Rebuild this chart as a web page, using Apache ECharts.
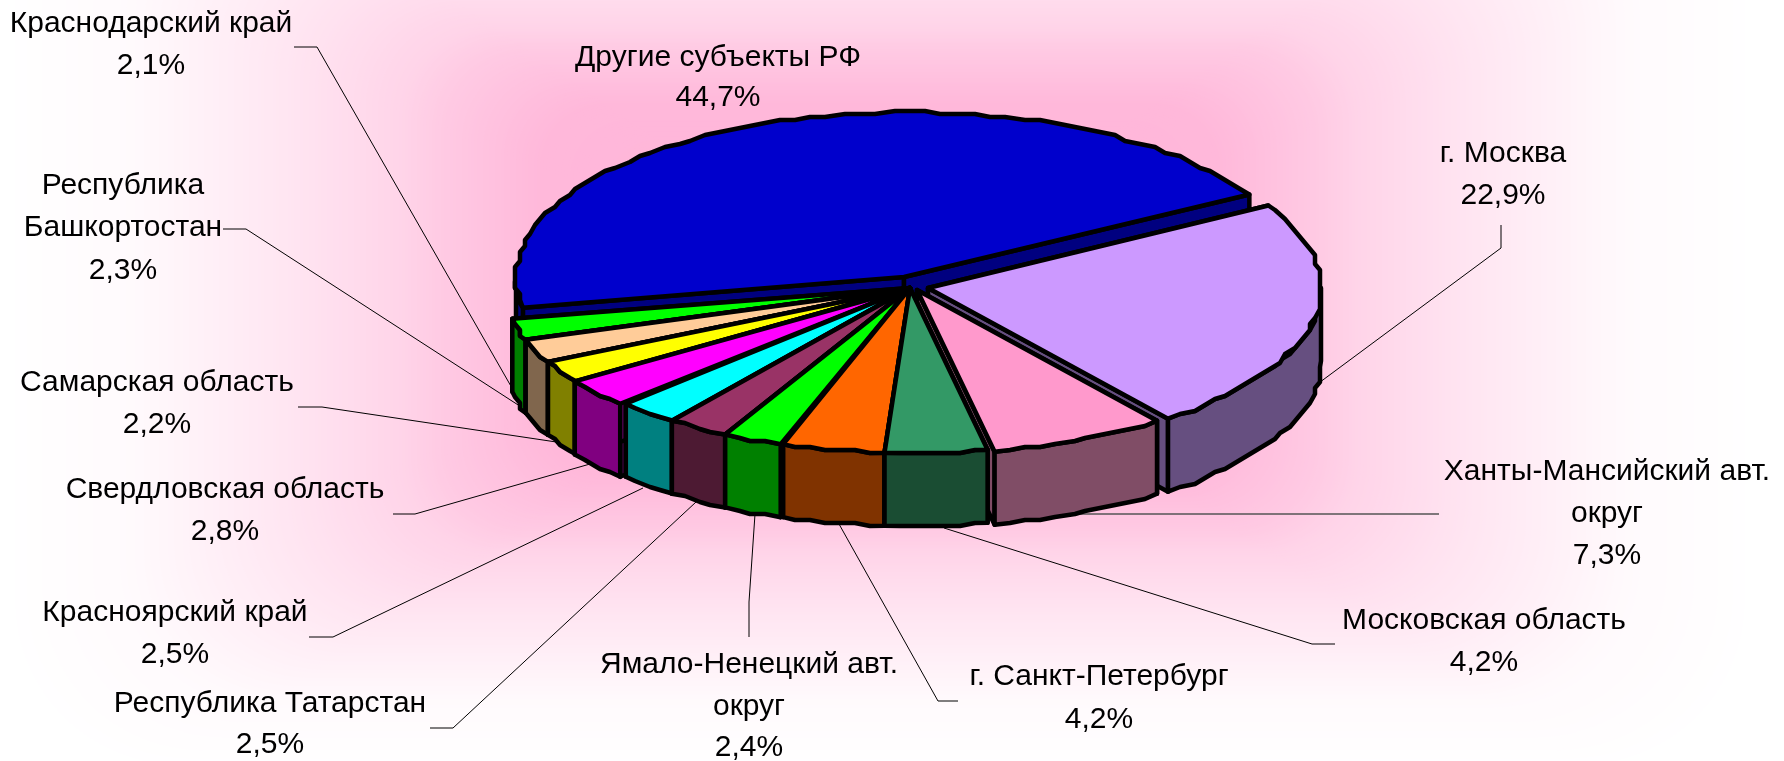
<!DOCTYPE html>
<html><head><meta charset="utf-8">
<style>html,body{margin:0;padding:0;background:#fff}#c{width:1784px;height:761px}</style>
<script src="https://cdn.jsdelivr.net/npm/echarts@6/dist/echarts.min.js"></script></head>
<body><div id="c"></div>
<script>
// ---- data (clockwise from the start angle)
const regionNames = ['г. Москва','Ханты-Мансийский авт. округ','Московская область','г. Санкт-Петербург','Ямало-Ненецкий авт. округ','Республика Татарстан','Красноярский край','Свердловская область','Самарская область','Республика Башкортостан','Краснодарский край','Другие субъекты РФ'];
const shareValues = [22.9,7.3,4.2,4.2,2.4,2.5,2.5,2.8,2.2,2.3,2.1,44.7];
const shareLabels = ['22,9%','7,3%','4,2%','4,2%','2,4%','2,5%','2,5%','2,8%','2,2%','2,3%','2,1%','44,7%'];
const topColors  = ['#CC99FF','#FF99CC','#339966','#FF6600','#00FF00','#993366','#00FFFF','#FF00FF','#FFFF00','#FFCC99','#00FF00','#0000CC'];
const sideColors = ['#664F80','#804D66','#1A4D33','#803300','#008000','#4D1A33','#008080','#800080','#808000','#80664D','#008000','#000080'];

// ---- layout (not data)
const C = {x:910,y:288,a:393,b:165,depth:73,start:30};
const sliceShift = [[18,0],[7,2],[0,0],[0,0],[0,0],[0,0],[0,0],[0,0],[0,0],[0,0],[0,0],[-6,-11]];
const rimOffsetX = [0,0,0,0,0,0,0,0,0,0,0,5];
const rimGrow    = [1,1,1,1,1.02,1.02,1.015,1.035,1.03,1.03,1.03,1];
const labelLines = [
 [['г. Москва','22,9%'],1503,[154,196]],
 [['Ханты-Мансийский авт.','округ','7,3%'],1607,[472,514,556]],
 [['Московская область','4,2%'],1484,[621,663]],
 [['г. Санкт-Петербург','4,2%'],1099,[677,720]],
 [['Ямало-Ненецкий авт.','округ','2,4%'],749,[665,707,748]],
 [['Республика Татарстан','2,5%'],270,[704,745]],
 [['Красноярский край','2,5%'],175,[613,655]],
 [['Свердловская область','2,8%'],225,[490,532]],
 [['Самарская область','2,2%'],157,[383,425]],
 [['Республика','Башкортостан','2,3%'],123,[186,228,271]],
 [['Краснодарский край','2,1%'],151,[24,66]],
 [['Другие субъекты РФ','44,7%'],718,[58,98]]
];
const leaders = [
 [[1501,225],[1501,248],[1308,391]],
 [[1439,514],[1075,514]],
 [[1335,644],[1312,644],[944,528]],
 [[958,701],[938,701],[839,524]],
 [[749,637],[749,602],[755,514]],
 [[430,728],[453,728],[696,502]],
 [[309,637],[333,637],[643,488]],
 [[393,514],[415,514],[597,462]],
 [[298,407],[322,407],[563,443]],
 [[223,229],[246,229],[529,412]],
 [[294,47],[317,47],[512,388]],
 []
];
// background: rectangular path gradient (distance from centre -> green channel)
const bgCentre = [880,290], bgAspect = 1.82;
const bgRamp = [[0,178],[340,184],[440,202],[480,212],[570,226],[620,233],[680,241],[750,250],[880,255]];

const rad = d => d*Math.PI/180;
const total = shareValues.reduce((s,v)=>s+v,0);
let acc = C.start;
const slices = shareValues.map((v,i)=>{
  const s = acc, e = acc - v/total*360; acc = e;
  return {i,s,e,mid:(s+e)/2};
});
// painter's order: back to front
const order = slices.slice().sort((p,q)=>Math.sin(rad(q.mid))-Math.sin(rad(p.mid)));

function rim(sl,deg,snap){
  const [dx,dy]=sliceShift[sl.i], g=rimGrow[sl.i];
  let x=C.x+dx+rimOffsetX[sl.i]+C.a*g*Math.cos(rad(deg)), y=C.y+dy-C.b*Math.sin(rad(deg));
  if(snap){x=Math.round(x/5)*5;y=Math.round(y/3)*3;}
  return [x,y];
}
function arc(sl,a0,a1){
  const n=Math.max(1,Math.ceil(Math.abs(a1-a0)/2.4)),pts=[];
  for(let k=0;k<=n;k++){pts.push(rim(sl,a0+(a1-a0)*k/n,k>0&&k<n));}
  return pts;
}
const down=p=>[p[0],p[1]+C.depth];
const stroke={stroke:'#000',lineWidth:4.5,lineJoin:'round'};
function poly(points,fill){return {type:'polygon',shape:{points},style:Object.assign({fill},stroke)};}

function renderSlice(params){
  const sl=order[params.dataIndex],[dx,dy]=sliceShift[sl.i];
  const apex=[C.x+dx,C.y+dy],side=sideColors[sl.i],kids=[];
  [sl.s,sl.e].forEach(d=>{
    const p=rim(sl,d,false);
    kids.push(poly([apex,p,down(p),down(apex)],side));
  });
  // outer wall: front half of the rim only
  const lo=Math.max(sl.e,-180),hi=Math.min(sl.s,0);
  if(hi>lo){
    const top=arc(sl,hi,lo);
    kids.push(poly(top.concat(top.map(down).reverse()),side));
  }
  kids.push(poly([apex].concat(arc(sl,sl.s,sl.e)),topColors[sl.i]));
  return {type:'group',children:kids};
}
function renderLeader(params){
  const pts=leaders[params.dataIndex];
  if(!pts.length)return {type:'group',children:[]};
  const thick=params.dataIndex===1;
  return {type:'polyline',shape:{points:pts},style:{stroke:thick?'#555':'#000',lineWidth:thick?1.5:1,fill:null}};
}
function renderLabel(params){
  const [lines,cx,ys]=labelLines[params.dataIndex];
  return {type:'group',children:lines.map((t,k)=>({type:'text',style:{text:t,x:cx,y:ys[k],align:'center',verticalAlign:'middle',fill:'#000',font:'30px "Liberation Sans"'}}))};
}
function bgGreen(d){
  for(let k=1;k<bgRamp.length;k++){
    if(d<=bgRamp[k][0]){
      const [d0,g0]=bgRamp[k-1],[d1,g1]=bgRamp[k];
      return g0+(g1-g0)*(d-d0)/(d1-d0);
    }
  }
  return 255;
}
const bgRects=[];
for(let d=880;d>0;d-=3){
  const g=Math.round(bgGreen(d)),b=Math.round(255-(255-bgGreen(d))*0.52),h=d/bgAspect;
  bgRects.push({type:'rect',z:0,silent:true,
    shape:{x:bgCentre[0]-d,y:bgCentre[1]-h,width:2*d,height:2*h,r:h*0.35},
    style:{fill:`rgb(255,${g},${b})`}});
}
const chart=echarts.init(document.getElementById('c'),null,{renderer:'canvas'});
chart.setOption({
  animation:false,backgroundColor:'#fff',tooltip:{show:false},
  graphic:bgRects,
  series:[
    {type:'custom',coordinateSystem:'none',z:2,silent:true,renderItem:renderLeader,data:shareValues.map((v,i)=>[i,v])},
    {type:'custom',coordinateSystem:'none',z:3,silent:true,renderItem:renderSlice,data:order.map(s=>[s.i,shareValues[s.i]])},
    {type:'custom',coordinateSystem:'none',z:4,silent:true,renderItem:renderLabel,data:shareValues.map((v,i)=>[i,regionNames[i],shareLabels[i]])}
  ]
});
</script></body></html>
